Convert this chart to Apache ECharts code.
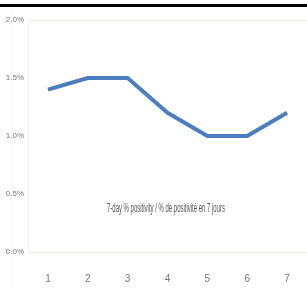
<!DOCTYPE html>
<html>
<head>
<meta charset="utf-8">
<script src="https://cdn.jsdelivr.net/npm/echarts@6/dist/echarts.min.js"></script>
<style>
  html, body { margin: 0; padding: 0; background: #fff; }
  #chart { width: 307px; height: 289px; }
</style>
</head>
<body>
<div id="chart"></div>
<script>
// 初始化图表
var myChart = echarts.init(document.getElementById('chart'));

var days = ['1', '2', '3', '4', '5', '6', '7'];
var positivity = [1.4, 1.5, 1.5, 1.2, 1.0, 1.0, 1.2];
var yTicks = [0, 0.5, 1.0, 1.5, 2.0];
var seriesName = '7-day % positivity / % de positivité en 7 jours';

var font = '"Liberation Sans", Arial, sans-serif';

var option = {
  animation: false,
  grid: { left: 28, right: 0, top: 20, bottom: 37 },
  xAxis: {
    type: 'category',
    data: days,
    boundaryGap: true,
    axisLine: { show: false },
    axisTick: { show: false },
    axisLabel: { color: '#777', fontSize: 10, fontFamily: font, margin: 22 }
  },
  yAxis: {
    type: 'value',
    min: yTicks[0],
    max: yTicks[yTicks.length - 1],
    interval: 0.5,
    axisLine: { show: true, lineStyle: { color: '#f2f2ec', width: 1 } },
    axisTick: { show: false },
    splitLine: {
      show: true,
      lineStyle: { color: ['#ecece2', 'transparent', 'transparent', 'transparent', '#ecece2'] }
    },
    axisLabel: {
      color: '#777',
      fontSize: 8,
      fontFamily: font,
      margin: 4,
      formatter: function (v) { return v.toFixed(1) + '%'; }
    }
  },
  graphic: [
    { type: 'rect', shape: { x: 0, y: 4, width: 307, height: 3 }, style: { fill: '#000' } },
    { type: 'line', shape: { x1: 12, y1: 8, x2: 12, y2: 289 }, style: { stroke: '#f4f4f0', lineWidth: 1 } },
    {
      type: 'text', x: 107, y: 208, scaleX: 0.46,
      style: { text: seriesName, fill: '#555', fontSize: 13, fontFamily: font, verticalAlign: 'middle' }
    }
  ],
  series: [{
    name: seriesName,
    type: 'line',
    data: positivity,
    symbol: 'none',
    lineStyle: { color: '#4a7ebf', width: 4 }
  }]
};

myChart.setOption(option);
</script>
</body>
</html>
